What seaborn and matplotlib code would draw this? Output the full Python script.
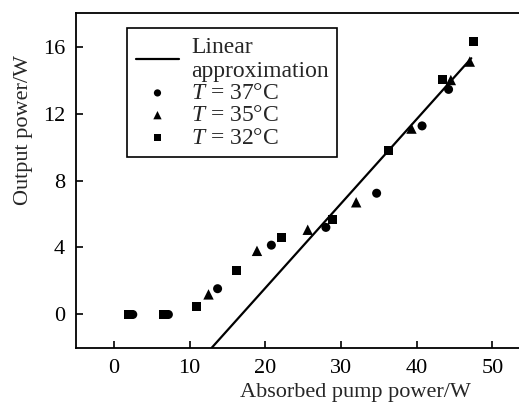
import matplotlib
matplotlib.use("Agg")
import matplotlib.pyplot as plt
import seaborn as sns
import pandas as pd

# Data
x_37 = [2.5, 7.2, 13.7, 20.8, 28.0, 34.7, 40.7, 44.2]
y_37 = [0.0, 0.0, 1.54, 4.14, 5.2, 7.24, 11.26, 13.44]
x_35 = [12.5, 18.9, 25.6, 32.0, 39.3, 44.5, 47.0]
y_35 = [1.2, 3.8, 5.06, 6.7, 11.1, 14.0, 15.1]
x_32 = [1.9, 6.6, 10.9, 16.2, 22.1, 28.9, 36.3, 43.4, 47.5]
y_32 = [0.0, 0.0, 0.46, 2.6, 4.6, 5.66, 9.8, 14.05, 16.3]
line_x = [12.9, 47.2]
line_y = [-2.0, 15.3]
x_ticks = [0, 10, 20, 30, 40, 50]
y_ticks = [0, 4, 8, 12, 16]

sns.set_theme(style="ticks")
plt.rcParams["font.family"] = ["Liberation Serif", "DejaVu Serif"]
plt.rcParams["mathtext.fontset"] = "custom"
plt.rcParams["mathtext.it"] = "Liberation Serif:italic"
plt.rcParams["mathtext.rm"] = "Liberation Serif"

fig = plt.figure(figsize=(5.19, 4.03), dpi=100)
ax = fig.add_axes([0.1464, 0.1365, 1.0 - 0.1464, 0.9677 - 0.1365])

line_df = pd.DataFrame({"x": line_x, "y": line_y})
sns.lineplot(data=line_df, x="x", y="y", ax=ax, color="black", lw=1.6,
             label="Linear\napproximation")

series = [
    (x_37, y_37, "o", 6.5, r"$T$ = 37°C"),
    (x_35, y_35, "^", 7.5, r"$T$ = 35°C"),
    (x_32, y_32, "s", 6.5, r"$T$ = 32°C"),
]
for xs, ys, m, ms, lab in series:
    df = pd.DataFrame({"x": xs, "y": ys})
    sns.scatterplot(data=df, x="x", y="y", ax=ax, marker=m, s=ms**2,
                    color="black", edgecolor="none", label=lab, zorder=3)

ax.set_xlim(-5, 53.5)
ax.set_ylim(-2, 18)
ax.set_xticks(x_ticks)
ax.set_yticks(y_ticks)
ax.tick_params(direction="in", length=5, width=1.2, labelsize=16, colors="black", pad=8)
for side in ["left", "bottom", "top"]:
    ax.spines[side].set_linewidth(1.3)
    ax.spines[side].set_color("black")
ax.spines["right"].set_visible(False)

ax.set_xlabel("Absorbed pump power/W", fontsize=16, labelpad=2)
ax.xaxis.set_label_coords(0.63, -0.105)
ax.set_ylabel("Output power/W", fontsize=16, labelpad=6)
ax.yaxis.set_label_coords(-0.097, 0.65)

leg = ax.legend(loc="upper left", bbox_to_anchor=(0.116, 0.954), borderaxespad=0,
                frameon=True, fancybox=False, fontsize=17, handlelength=1.85,
                labelspacing=0.03, borderpad=0.35, handletextpad=0.5, markerscale=0.8)
leg.get_frame().set_edgecolor("black")
leg.get_frame().set_linewidth(1.2)
leg.get_frame().set_alpha(1)

fig.savefig("out.png", dpi=100)
